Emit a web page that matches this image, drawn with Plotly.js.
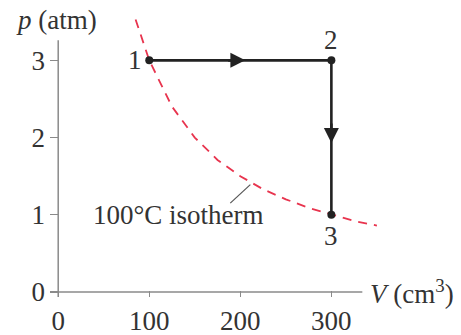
<!DOCTYPE html>
<html>
<head>
<meta charset="utf-8">
<script src="https://cdn.plot.ly/plotly-3.0.1.min.js"></script>
<style>html,body{margin:0;padding:0;background:#fff;}#chart{width:461px;height:335px;}</style>
</head>
<body>
<div id="chart"></div>
<script>
// Process path 1 -> 2 -> 3
var pathV = [100, 300, 300];
var pathP = [3, 3, 1];
var pointLabels = ["1", "2", "3"];
// 100°C isotherm
var isoV = [85, 100, 125, 150, 175, 200, 225, 250, 275, 300, 325, 350];
var isoP = [3.53, 3.0, 2.4, 2.0, 1.71, 1.5, 1.33, 1.2, 1.09, 1.0, 0.92, 0.86];
var xTicks = [0, 100, 200, 300];
var yTicks = [0, 1, 2, 3];

var serif = "Liberation Serif, Times New Roman, serif";
var fs = 27;
var ink = "#222222";
var txt = "#333333";
var axisGray = "#8a8a8a";

var traces = [
  {x: isoV, y: isoP, mode: "lines", line: {color: "#e8344e", width: 1.8, dash: "9px,7px"}, hoverinfo: "skip"},
  {x: pathV, y: pathP, mode: "lines+markers", line: {color: ink, width: 2.6},
   marker: {color: ink, size: 8}, hoverinfo: "skip"}
];

var annotations = [
  {x: pathV[0], y: pathP[0], text: pointLabels[0], showarrow: false, xanchor: "right", yanchor: "middle", xshift: -5, font: {family: serif, size: fs, color: txt}},
  {x: pathV[1], y: pathP[1], text: pointLabels[1], showarrow: false, xanchor: "center", yanchor: "bottom", yshift: 3, font: {family: serif, size: fs, color: txt}},
  {x: pathV[2], y: pathP[2], text: pointLabels[2], showarrow: false, xanchor: "center", yanchor: "top", yshift: -4, font: {family: serif, size: fs, color: txt}},
  {x: 205.5, y: 3, ax: 185, ay: 3, axref: "x", ayref: "y", xref: "x", yref: "y", text: "", showarrow: true, arrowhead: 2, arrowsize: 1.15, arrowwidth: 2.6, arrowcolor: ink},
  {x: 300, y: 1.93, ax: 300, ay: 2.2, axref: "x", ayref: "y", xref: "x", yref: "y", text: "", showarrow: true, arrowhead: 2, arrowsize: 1.15, arrowwidth: 2.6, arrowcolor: ink},
  {x: 132, y: 1.0, text: "100°C isotherm", showarrow: false, xanchor: "center", yanchor: "middle", font: {family: serif, size: fs, color: txt}},
  {x: -0.107, y: 0.979, xref: "paper", yref: "paper", text: "<i>p</i> (atm)", showarrow: false, xanchor: "left", yanchor: "middle", font: {family: serif, size: fs, color: txt}},
  {x: 340, y: 0, text: "<i>V</i> (cm<sup>3</sup>)", showarrow: false, xanchor: "left", yanchor: "middle", font: {family: serif, size: fs, color: txt}}
];

var shapes = [
  {type: "line", xref: "x", yref: "y", x0: -9, y0: 0, x1: 334, y1: 0, line: {color: axisGray, width: 1.5}},
  {type: "line", xref: "x", yref: "y", x0: 0, y0: -0.065, x1: 0, y1: 3.26, line: {color: axisGray, width: 1.5}},
  {type: "line", xref: "x", yref: "y", x0: 189, y0: 1.15, x1: 211, y1: 1.39, line: {color: "#555", width: 1.2}}
];

var layout = {
  width: 461, height: 335,
  margin: {l: 50, r: 75, t: 14, b: 38},
  paper_bgcolor: "#fff", plot_bgcolor: "#fff",
  showlegend: false,
  xaxis: {range: [-9, 360], tickvals: xTicks, ticks: "inside", ticklen: 6, tickcolor: axisGray, tickwidth: 1.3,
          showgrid: false, showline: false, zeroline: false,
          ticklabelstandoff: 5, tickfont: {family: serif, size: fs, color: txt}},
  yaxis: {range: [-0.065, 3.6], tickvals: yTicks, ticks: "inside", ticklen: 8, tickcolor: axisGray, tickwidth: 1.3,
          showgrid: false, showline: false, zeroline: false,
          ticklabelstandoff: 4, tickfont: {family: serif, size: fs, color: txt}},
  annotations: annotations,
  shapes: shapes
};

Plotly.newPlot("chart", traces, layout, {staticPlot: true, displayModeBar: false});
</script>
</body>
</html>
